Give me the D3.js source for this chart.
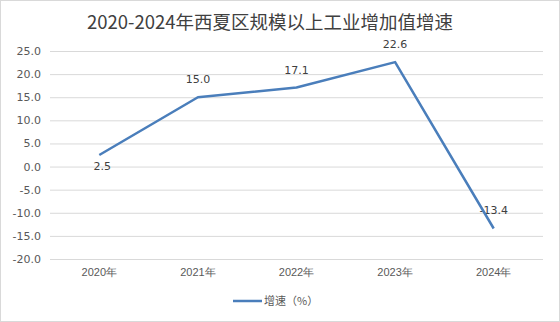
<!DOCTYPE html>
<html><head><meta charset="utf-8">
<script src="https://cdn.jsdelivr.net/npm/d3@7/dist/d3.min.js"></script>
<style>
body{margin:0;background:#fff;}
svg{display:block;font-family:"Noto Sans CJK SC","DejaVu Sans",sans-serif;}
</style></head>
<body><svg id="c" width="560" height="322"></svg>
<script>
const title = "2020-2024年西夏区规模以上工业增加值增速";
const categories = ["2020年","2021年","2022年","2023年","2024年"];
const growth = [2.5, 15.0, 17.1, 22.6, -13.4];
const yTicks = [25,20,15,10,5,0,-5,-10,-15,-20];
const seriesName = "增速（%）";
const labelSide = ["below","above","above","above","above"];

const svg = d3.select("#c");
const W = 560, H = 322;
const m = {l:50, r:17, t:51, b:63};

// one decimal, plain hyphen for negatives
const fmt = d3.formatLocale({decimal:".", thousands:",", grouping:[3], currency:["",""], minus:"-"}).format(".1f");

svg.append("rect").attr("x",0.5).attr("y",0.5).attr("width",W-1).attr("height",H-1)
  .attr("fill","#fff").attr("stroke","#d9d9d9");

svg.append("text").attr("x",270).attr("y",29).attr("text-anchor","middle")
  .attr("font-size",18.5).attr("fill","#404040").text(title);

const x = d3.scaleBand().domain(categories).range([m.l, W-m.r]);
const y = d3.scaleLinear().domain([-20,25]).range([H-m.b, m.t]);

const yAxis = svg.append("g").attr("transform",`translate(${m.l},0)`)
  .call(d3.axisLeft(y).tickValues(yTicks).tickFormat(fmt).tickSize(-(W-m.l-m.r)).tickPadding(9));
yAxis.select(".domain").remove();
yAxis.selectAll(".tick line").attr("stroke","#d9d9d9");
yAxis.selectAll(".tick text").attr("fill","#595959").attr("font-size",11).attr("font-family","DejaVu Sans, sans-serif");

const xAxis = svg.append("g").attr("transform",`translate(0,${H-m.b})`)
  .call(d3.axisBottom(x).tickSize(0).tickPadding(9));
xAxis.select(".domain").remove();
xAxis.selectAll(".tick text").attr("fill","#595959").attr("font-size",11);

const pts = categories.map((c,i)=>({c, v:growth[i], s:labelSide[i]}));

svg.selectAll(".lbl").data(pts).enter().append("text")
  .attr("font-size",11).attr("fill","#404040").attr("font-family","DejaVu Sans, sans-serif")
  .attr("text-anchor","middle")
  .attr("x", d=>x(d.c)+x.bandwidth()/2 + (d.s==="below"?3:0))
  .attr("y", d=>y(d.v) + (d.s==="below"?15:-14))
  .text(d=>fmt(d.v));

const line = d3.line().x(d=>x(d.c)+x.bandwidth()/2).y(d=>y(d.v));
svg.append("path").datum(pts).attr("d",line).attr("fill","none")
  .attr("stroke","#4a7ebb").attr("stroke-width",2.5).attr("stroke-linejoin","round");

const lg = svg.append("g");
lg.append("line").attr("x1",233).attr("x2",262).attr("y1",301).attr("y2",301)
  .attr("stroke","#4a7ebb").attr("stroke-width",2.5);
lg.append("text").attr("x",264).attr("y",305).attr("font-size",11).attr("fill","#595959").text(seriesName);
</script></body></html>
